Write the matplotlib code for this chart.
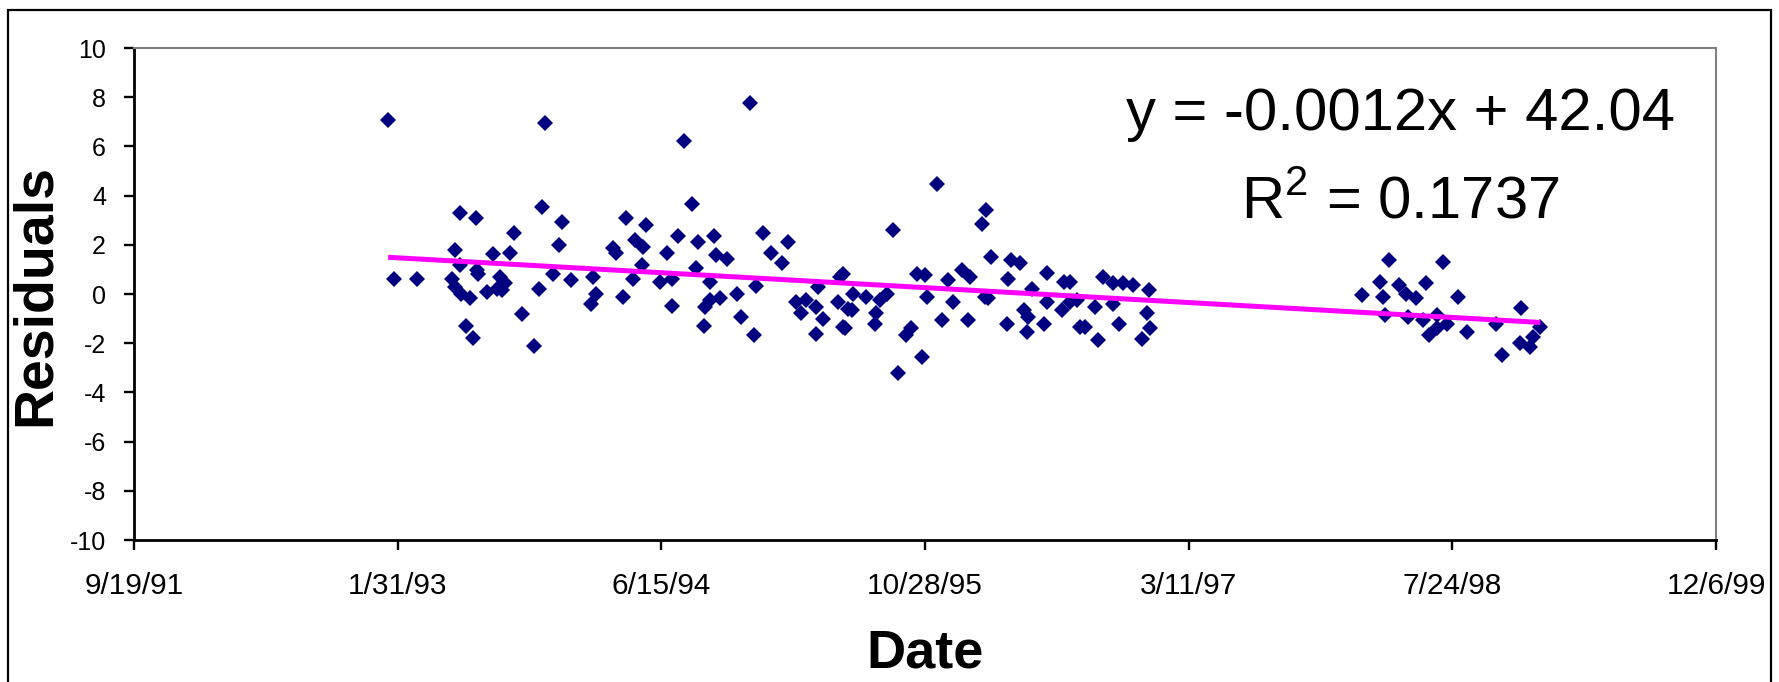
import numpy as np
import matplotlib.pyplot as plt
from matplotlib.patches import Rectangle

plt.rcParams['font.family'] = ['Liberation Sans', 'DejaVu Sans']
plt.rcParams['mathtext.fontset'] = 'custom'
plt.rcParams['mathtext.rm'] = 'Liberation Sans'
plt.rcParams['axes.unicode_minus'] = False

# x is the spreadsheet day serial (days since 1/0/1900), y the residual
day_serial = [
    33982, 33993, 34037, 34103, 34109, 34109, 34118, 34118, 34121, 34130,
    34137, 34142, 34148, 34150, 34153, 34169, 34180, 34188, 34194, 34197,
    34204, 34213, 34220, 34236, 34258, 34268, 34274, 34279, 34295, 34306,
    34312, 34328, 34366, 34371, 34377, 34409,
    34414, 34427, 34433, 34447, 34450, 34463, 34466, 34471, 34498, 34510,
    34520, 34521, 34532, 34543, 34559, 34566, 34569, 34581, 34583, 34593,
    34593, 34599, 34604, 34612, 34625, 34643, 34652, 34669, 34676, 34680,
    34692, 34708, 34729, 34741, 34756, 34765, 34775, 34794, 34794, 34797,
    34806, 34835, 34839, 34845, 34854,
    34845, 34848, 34861, 34864, 34889, 34905, 34908, 34915, 34927, 34939,
    34949, 34964, 34973, 34984, 34994, 35000, 35004, 35022, 35032, 35043,
    35054, 35071, 35082, 35085, 35109, 35113, 35115, 35120, 35126, 35155,
    35158, 35164, 35181, 35187, 35193, 35196, 35202, 35225, 35231, 35231,
    35259, 35264, 35275, 35294,
    35275, 35288, 35303, 35322, 35329, 35338, 35357, 35357, 35367, 35376,
    35395, 35411, 35421, 35424, 35427,
    35828, 35863, 35869, 35872, 35879, 35898, 35913, 35916, 35932, 35945,
    35951, 35955, 35970, 35970, 35983, 35989, 36011, 36027, 36083, 36094,
    36128, 36131, 36147, 36153, 36167,
]
residual = [
    7.07, 0.59, 0.59, 0.59, 1.78, 0.29, 3.30, 1.17, 0.02, -1.31,
    -0.18, -1.77, 3.07, 0.97, 0.83, 0.09, 1.62, 0.22, 0.70, 0.15,
    0.43, 1.65, 2.46, -0.82, -2.12, 0.22, 3.54, 6.94, 0.83, 1.99,
    2.93, 0.56, -0.39, 0.70, 0.02, 1.85,
    1.65, -0.12, 3.07, 0.63, 2.19, 1.17, 1.92, 2.80, 0.49, 1.65,
    0.59, -0.50, 2.35, 6.23, 3.65, 1.04, 2.12, -1.31, -0.52, 0.49,
    -0.25, 2.35, 1.58, -0.18, 1.44, 0.02, -0.93, 7.78, -1.68, 0.32,
    2.49, 1.67, 1.24, 2.12, -0.32, -0.79, -0.25, -0.52, -1.61, 0.29,
    -1.00, -0.32, 0.70, -1.34, -0.59,
    0.83, -1.40, -0.66, 0.02, -0.12, -1.20, -0.79, -0.25, 0.02, 2.60,
    -3.21, -1.68, -1.40, 0.83, -2.58, 0.76, -0.12, 4.47, -1.04, 0.56,
    -0.32, 0.97, -1.04, 0.70, 2.84, -0.12, 3.41, -0.18, 1.51, -1.20,
    0.63, 1.40, 1.27, -0.66, -1.54, -0.93, 0.22, -1.20, 0.86, -0.32,
    -0.66, 0.49, -0.32, -1.34,
    0.49, -0.25, -1.34, -0.52, -1.88, 0.70, 0.43, -0.39, -1.20, 0.43,
    0.36, -1.81, -0.79, 0.15, -1.40,
    -0.05, 0.49, -0.12, -0.86, 1.40, 0.36, 0.02, -0.93, -0.18, -1.07,
    0.43, -1.68, -1.40, -0.86, 1.31, -1.20, -0.14, -1.54, -1.23, -2.49,
    -2.01, -0.57, -2.15, -1.75, -1.34,
]

tick_days = [33500, 34000, 34500, 35000, 35500, 36000, 36500]
tick_labels = ['9/19/91', '1/31/93', '6/15/94', '10/28/95', '3/11/97', '7/24/98', '12/6/99']
y_ticks = list(range(-10, 11, 2))
eq_text = 'y = -0.0012x + 42.04'
r2_text = r'R$^{\mathregular{2}}$ = 0.1737'

x = np.array(day_serial, dtype=float)
y = np.array(residual)

fig = plt.figure(figsize=(17.79, 6.82), dpi=100)
ax = fig.add_axes([134/1779, 1 - 540/682, (1716-134)/1779, (540-48)/682])

ax.plot(x, y, linestyle='none', marker='D', markersize=8,
        color='#000080', markeredgewidth=0, zorder=3)

# linear trend through the residuals
slope, icept = np.polyfit(x, y, 1)
xt = np.array([x.min(), x.max()])
ax.plot(xt, slope * xt + icept, color='#FF00FF', linewidth=3.6, zorder=4,
        solid_capstyle='butt')

ax.set_xlim(33500, 36500)
ax.set_ylim(-10, 10)
ax.set_xticks(tick_days)
ax.set_xticklabels(tick_labels)
ax.set_yticks(y_ticks)

for side in ['left', 'bottom']:
    ax.spines[side].set_color('black')
    ax.spines[side].set_linewidth(2.0)
for side in ['top', 'right']:
    ax.spines[side].set_color('#808080')
    ax.spines[side].set_linewidth(1.5)

ax.tick_params(axis='both', direction='out', length=7.2, width=1.7, color='black')
ax.tick_params(axis='x', labelsize=21.5, pad=16)
ax.tick_params(axis='y', labelsize=18, pad=13)

fig.text(36/1779, 1 - 295/682, 'Residuals', rotation=90, ha='center', va='center',
         fontsize=40, fontweight='bold')
fig.text(925/1779, 14/682, 'Date', ha='center', va='baseline',
         fontsize=39, fontweight='bold')

fig.text(1400/1779, 1 - 130/682, eq_text, ha='center', va='baseline', fontsize=43)
fig.text(1400/1779, 1 - 219/682, r2_text, ha='center', va='baseline', fontsize=43)

# chart-area border, open at the bottom edge
fig.add_artist(Rectangle((8/1779, -0.1), (1771-8)/1779, (1 - 10/682) + 0.1,
                         transform=fig.transFigure, fill=False,
                         edgecolor='black', linewidth=1.6, clip_on=False))

fig.savefig('out.png', dpi=100, facecolor='white')
